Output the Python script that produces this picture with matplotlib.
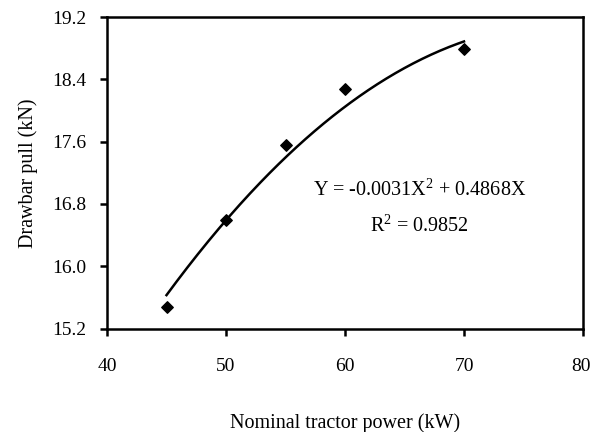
import numpy as np
import matplotlib

matplotlib.use("Agg")
import matplotlib.pyplot as plt  # noqa: E402
import matplotlib.transforms as mtransforms  # noqa: E402

# Measured drawbar pull per nominal tractor power
power_kw = [45, 50, 55, 60, 70]
pull_kn = [15.47, 16.59, 17.55, 18.28, 18.79]

# Quadratic trend through the origin: Y = a*X^2 + b*X
coef_a = -0.0031
coef_b = 0.4868
r_squared = 0.9852

x_ticks = [40, 50, 60, 70, 80]
y_ticks = [15.2, 16.0, 16.8, 17.6, 18.4, 19.2]

plt.rcParams["font.family"] = ["Liberation Serif", "DejaVu Serif"]
plt.rcParams["mathtext.fontset"] = "custom"
plt.rcParams["mathtext.rm"] = "Liberation Serif"

W, H = 591, 432
fig = plt.figure(figsize=(W / 100, H / 100), dpi=100)
ax = fig.add_axes([107 / W, 1 - 328.5 / H, 476 / W, 311.5 / H])

trend_x = np.linspace(min(power_kw), max(power_kw), 200)
trend_y = coef_a * trend_x ** 2 + coef_b * trend_x
ax.plot(trend_x, trend_y, color="black", lw=1.8, zorder=2)
ax.scatter(power_kw, pull_kn, marker="D", s=34, color="black", zorder=3)

ax.set_xlim(40, 80)
ax.set_ylim(15.2, 19.2)
ax.set_xticks(x_ticks)
ax.set_yticks(y_ticks)
ax.set_yticklabels([f"{v:.1f}" for v in y_ticks])

for side in ax.spines.values():
    side.set_linewidth(1.8)
ax.tick_params(direction="out", length=5, width=1.8, labelsize=14)
ax.tick_params(axis="x", pad=16)
ax.tick_params(axis="y", pad=10)

# last x label sits against the right edge of the figure
last_label = ax.get_xticklabels()[-1]
last_label.set_horizontalalignment("right")
last_label.set_transform(last_label.get_transform()
                         + mtransforms.ScaledTranslation(8 / 100, 0, fig.dpi_scale_trans))

ax.set_xlabel("Nominal tractor power (kW)", fontsize=14.5, labelpad=28)
ax.set_ylabel("Drawbar pull (kN)", fontsize=14.5, labelpad=10)

# text positions in pixels from the top-left corner
def px(x, y):
    return x / W, 1 - y / H

eq_text = f"Y = {coef_a}X$^2$ + {coef_b}X"
fig.text(*px(420, 190), eq_text, fontsize=14.5, ha="center", va="center")
fig.text(*px(419, 226), f"R$^2$ = {r_squared}", fontsize=14.5,
         ha="center", va="center")

fig.savefig("out.png", dpi=100)
